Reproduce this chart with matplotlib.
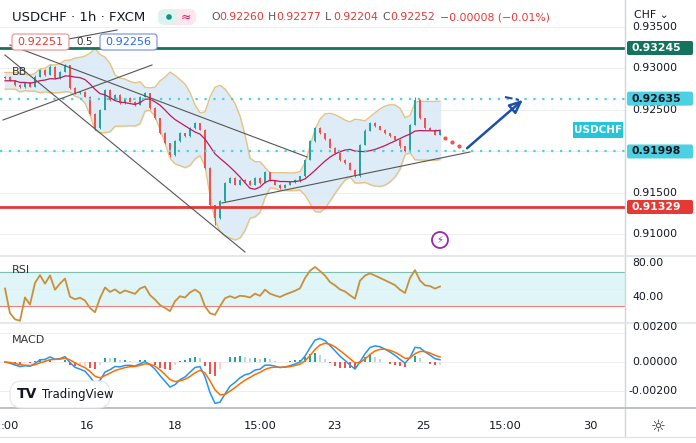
import numpy as np
import pandas as pd
import matplotlib
matplotlib.use("Agg")
import matplotlib.pyplot as plt
from matplotlib.patches import FancyBboxPatch, Rectangle, Circle

# ---------------- data ----------------
bar_x = list(range(5, 445, 5))
closes = [0.9290, 0.9285, 0.9280, 0.9277, 0.9283, 0.9278, 0.9290, 0.9298, 0.9292, 0.9302,
          0.9288, 0.9296, 0.9304, 0.9276, 0.9270, 0.9272, 0.9266, 0.9245, 0.9228, 0.9250,
          0.9274, 0.9262, 0.9268, 0.9258, 0.9264, 0.9260, 0.9256, 0.9266, 0.9270, 0.9252,
          0.9240, 0.9222, 0.9210, 0.9195, 0.9212, 0.9222, 0.9218, 0.9228, 0.9234, 0.9226,
          0.9180, 0.9135, 0.9120, 0.9140, 0.9162, 0.9168, 0.9160, 0.9166, 0.9164, 0.9160,
          0.9168, 0.9162, 0.9175, 0.9165, 0.9160, 0.9156, 0.9160, 0.9163, 0.9166, 0.9170,
          0.9190, 0.9212, 0.9228, 0.9222, 0.9215, 0.9204, 0.9198, 0.9190, 0.9186, 0.9178,
          0.9170, 0.9208, 0.9225, 0.9234, 0.9230, 0.9226, 0.9222, 0.9218, 0.9214, 0.9206,
          0.9200, 0.9232, 0.9262, 0.9240, 0.9228, 0.9226, 0.9220, 0.9225]
first_open = 0.9288
up_wick = [3, 2, 4, 2, 3, 2, 5, 4, 2, 6, 3, 4, 3, 2, 3, 2, 4, 2, 3, 4,
           3, 2, 4, 3, 2, 3, 2, 4, 3, 2, 3, 2, 3, 2, 4, 3, 2, 4, 3, 2,
           3, 4, 3, 5, 4, 3, 2, 3, 2, 3, 4, 3, 5, 2, 3, 2, 3, 2, 3, 2,
           4, 5, 6, 3, 2, 3, 2, 3, 2, 3, 2, 4, 5, 4, 3, 2, 3, 2, 3, 2,
           3, 4, 12, 3, 2, 3, 2, 2]
low_wick = [3, 2, 3, 4, 2, 3, 2, 3, 4, 2, 3, 2, 3, 4, 3, 2, 3, 4, 6, 3,
            2, 3, 2, 3, 2, 3, 4, 2, 3, 2, 3, 4, 3, 5, 2, 3, 2, 3, 2, 3,
            4, 3, 30, 4, 3, 2, 3, 2, 3, 4, 2, 3, 2, 3, 4, 3, 2, 3, 2, 8,
            3, 2, 3, 2, 3, 2, 3, 4, 3, 2, 5, 3, 2, 3, 2, 3, 2, 3, 2, 5,
            4, 3, 2, 3, 4, 2, 3, 2]

price_ticks = [0.935, 0.930, 0.925, 0.915, 0.910]
rsi_ticks = [80, 40]
macd_ticks = [0.002, 0.0, -0.002]
x_tick_pos = [5, 87, 175, 260, 334, 423, 505, 590]
x_tick_lab = [":00", "16", "18", "15:00", "23", "25", "15:00", "30"]

# ---------------- figure ----------------
W, H = 696, 443
fig = plt.figure(figsize=(W / 100, H / 100), dpi=100)
fig.patch.set_facecolor("white")

def ax_px(x0, y0, x1, y1, **kw):
    return fig.add_axes([x0 / W, 1 - y1 / H, (x1 - x0) / W, (y1 - y0) / H], **kw)

def p2y(p):
    return 48 + (0.93245 - p) * 8298

def y2p(y):
    return 0.93245 - (y - 48) / 8298

ax = ax_px(0, 8, 625, 255)
ax.set_xlim(0, 625)
ax.set_ylim(y2p(255), y2p(8))

c = np.array(closes)
o = np.concatenate([[first_open], c[:-1]])
hi = np.maximum(o, c) + np.array(up_wick) * 3e-5
lo = np.minimum(o, c) - np.array(low_wick) * 3e-5
xs = np.array(bar_x, float)

s = pd.Series(c)
mid = s.rolling(10, min_periods=3).mean().bfill()
sd = s.rolling(10, min_periods=3).std().bfill()
ub, lb = mid + 2 * sd, mid - 2 * sd
ax.fill_between(xs, lb, ub, color="#dbeaf7", alpha=0.9, zorder=1)
ax.plot(xs, ub, color="#e8c27a", lw=0.9, zorder=2)
ax.plot(xs, lb, color="#e8c27a", lw=0.9, zorder=2)
ax.plot(xs, mid, color="#c2185b", lw=0.9, zorder=4)

for p in price_ticks + [0.920]:
    ax.axhline(p, color="#eeeeee", lw=0.7, zorder=0)

for i in range(len(xs)):
    col = "#26a69a" if c[i] >= o[i] else "#ef5350"
    ax.vlines(xs[i], lo[i], hi[i], color=col, lw=0.7, zorder=3)
    ax.add_patch(Rectangle((xs[i] - 1.3, min(o[i], c[i])), 2.6, max(abs(c[i] - o[i]), 2e-5),
                           color=col, zorder=3, lw=0))

ax.plot([0, 625], [0.93245] * 2, color="#13735f", lw=2, zorder=5)
ax.plot([0, 625], [0.92635] * 2, color="#4dd0e1", lw=1.6, ls=(0, (1, 3)), zorder=5)
ax.plot([0, 625], [0.91998] * 2, color="#4dd0e1", lw=1.6, ls=(0, (1, 3)), zorder=5)
ax.plot([0, 625], [0.91329] * 2, color="#e53935", lw=2, zorder=5)

def seg(x0, y0, x1, y1, **kw):
    ax.plot([x0, x1], [y2p(y0), y2p(y1)], **kw)

gl = dict(color="#555555", lw=0.8, zorder=6)
seg(10, 45, 307, 157, **gl)
seg(5, 55, 245, 252, **gl)
seg(3, 120, 152, 65, **gl)
seg(20, 48, 117, 30, **gl)
seg(222, 203, 470, 152, **gl)
ax.plot([445, 452, 459], [y2p(138), y2p(142), y2p(146)], ls="none", marker="o", ms=2,
        color="#ef5350", zorder=6)
ax.annotate("", xy=(525, y2p(98)), xytext=(465, y2p(150)),
            arrowprops=dict(arrowstyle="-|>,head_length=0.8,head_width=0.35", color="#1e4fa8",
                            lw=1.8, fill=False), zorder=7)
seg(505, 97, 519, 100, color="#1e4fa8", lw=1.5, ls="--", zorder=7)
ax.axis("off")

# RSI
axr = ax_px(0, 257, 625, 322)
axr.set_xlim(0, 625)
axr.set_ylim(80 - (322 - 263) / 0.85, 80 + (263 - 257) / 0.85)
axr.axhspan(30, 70, color="#dff5f8", zorder=0)
axr.axhline(70, color="#7fbfb0", lw=0.8)
axr.axhline(30, color="#f08080", lw=0.8)
axr.axhline(50, color="#e3eeee", lw=0.6)
d = s.diff().fillna(0)
g = d.clip(lower=0).ewm(alpha=1 / 9, adjust=False).mean() + 2e-5
l = (-d.clip(upper=0)).ewm(alpha=1 / 9, adjust=False).mean() + 2e-5
rsi = 100 - 100 / (1 + g / l)
axr.plot(xs, rsi, color="#c8903a", lw=1.3)
axr.axis("off")

# MACD
axm = ax_px(0, 324, 625, 407)
axm.set_xlim(0, 625)
axm.set_ylim(-(407 - 362) / 14500, (362 - 324) / 14500)
for t in macd_ticks:
    axm.axhline(t, color="#eeeeee", lw=0.7, zorder=0)
macd = s.ewm(span=5, adjust=False).mean() - s.ewm(span=11, adjust=False).mean()
sig = macd.ewm(span=4, adjust=False).mean()
hist = macd - sig
for i in range(len(xs)):
    hv = hist[i]
    prev = hist[i - 1] if i else 0
    if hv >= 0:
        col = "#26a69a" if hv >= prev else "#b2dfdb"
    else:
        col = "#ef5350" if hv <= prev else "#ffcdd2"
    axm.bar(xs[i], hv, width=2, color=col, zorder=1)
axm.plot(xs, macd, color="#2196f3", lw=1.1, zorder=3)
axm.plot(xs, sig, color="#ff6d00", lw=1.1, zorder=3)
axm.axis("off")

# overlay
ov = ax_px(0, 0, W, H)
ov.set_xlim(0, W)
ov.set_ylim(H, 0)
ov.axis("off")
ov.patch.set_alpha(0)
ov.plot([625, 625], [0, 437], color="#d1d4dc", lw=1)
for yy in [256, 323]:
    ov.plot([0, 696], [yy, yy], color="#e0e3eb", lw=1.2)
ov.plot([0, 696], [408, 408], color="#b2b5be", lw=1.2)
ov.plot([0, 696], [437, 437], color="#e0e3eb", lw=1)

fs = 7.8
for p in price_ticks:
    ov.text(632, p2y(p), f"{p:.5f}", fontsize=fs, color="#131722", va="center")
for t in rsi_ticks:
    ov.text(632, 263 - (t - 80) * 0.85, f"{t:.2f}", fontsize=fs, color="#131722", va="center")
for t, yy in zip(macd_ticks, [327, 362, 391]):
    ov.text(632 if t >= 0 else 628, yy, f"{t:.5f}", fontsize=fs, color="#131722", va="center")
ov.text(634, 15, "CHF ⌄", fontsize=fs, color="#131722", va="center")
for xp, lab in zip(x_tick_pos, x_tick_lab):
    if lab == ":00":
        ov.text(1, 426, lab, fontsize=fs + 0.4, color="#131722", ha="left", va="center")
    else:
        ov.text(xp, 426, lab, fontsize=fs + 0.4, color="#131722", ha="center", va="center")
ov.text(658, 427, "☼", fontsize=12, color="#333333", ha="center", va="center")

def tag(y, text, bg, fg):
    ov.add_patch(FancyBboxPatch((627, y - 7), 66, 14, boxstyle="round,pad=0,rounding_size=2",
                                fc=bg, ec="none", zorder=8))
    ov.text(631, y, text, fontsize=fs, color=fg, va="center", fontweight="bold", zorder=9)

tag(p2y(0.93245), "0.93245", "#13735f", "white")
tag(p2y(0.92635), "0.92635", "#4dd0e1", "#131722")
tag(p2y(0.91998), "0.91998", "#4dd0e1", "#131722")
tag(p2y(0.91329), "0.91329", "#e53935", "white")
ov.add_patch(Rectangle((573, 122), 50, 16, fc="#26c6da", ec="none", zorder=8))
ov.text(598, 130, "USDCHF", fontsize=7.5, color="white", ha="center", va="center",
        fontweight="bold", zorder=9)

ov.text(12, 17, "USDCHF · 1h · FXCM", fontsize=9.5, color="#131722", va="center")
ov.add_patch(FancyBboxPatch((158, 9), 38, 16, boxstyle="round,pad=0,rounding_size=7",
                            fc="#fde7ec", ec="none"))
ov.add_patch(FancyBboxPatch((158, 9), 20, 16, boxstyle="round,pad=0,rounding_size=7",
                            fc="#e0f2ef", ec="none"))
ov.add_patch(Circle((169, 17), 2.8, fc="#089981", ec="none"))
ov.text(186, 17, "≈", fontsize=9, color="#d81b60", ha="center", va="center")
xx = 211
for letter, val in [("O", "0.92260"), ("H", "0.92277"), ("L", "0.92204"), ("C", "0.92252")]:
    ov.text(xx, 17, letter, fontsize=7.8, color="#555555", va="center")
    ov.text(xx + 8, 17, val, fontsize=7.8, color="#e53935", va="center")
    xx += 57
ov.text(xx + 1, 17, "−0.00008 (−0.01%)", fontsize=7.8, color="#e53935", va="center")

ov.add_patch(FancyBboxPatch((12, 34), 57, 16, boxstyle="round,pad=0,rounding_size=3",
                            fc="white", ec="#f28b8b", lw=0.8, zorder=8))
ov.text(40.5, 42, "0.92251", fontsize=8, color="#e53935", ha="center", va="center", zorder=9)
ov.text(85, 42, "0.5", fontsize=7.5, color="#333333", ha="center", va="center", zorder=9)
ov.add_patch(FancyBboxPatch((100, 34), 57, 16, boxstyle="round,pad=0,rounding_size=3",
                            fc="white", ec="#6f8fe0", lw=0.8, zorder=8))
ov.text(128.5, 42, "0.92256", fontsize=8, color="#2962ff", ha="center", va="center", zorder=9)
ov.text(12, 72, "BB", fontsize=8, color="#333333", va="center", zorder=9)
ov.text(12, 270, "RSI", fontsize=8, color="#333333", va="center", zorder=9)
ov.text(12, 340, "MACD", fontsize=8, color="#333333", va="center", zorder=9)

ov.add_patch(FancyBboxPatch((10, 381), 100, 27, boxstyle="round,pad=0,rounding_size=12",
                            fc="white", ec="#e5e5e5", lw=0.8, zorder=8))
ov.text(17, 394.5, "TV", fontsize=10, color="#131722", va="center", fontweight="heavy", zorder=9)
ov.text(42, 394.5, "TradingView", fontsize=8.5, color="#131722", va="center", zorder=9)

ov.add_patch(Circle((440, 240), 8, fc="white", ec="#9c27b0", lw=1.3, zorder=8))
ov.text(440, 240, "⚡", fontsize=7, color="#9c27b0", ha="center", va="center", zorder=9)

fig.savefig("out.png", dpi=100)
